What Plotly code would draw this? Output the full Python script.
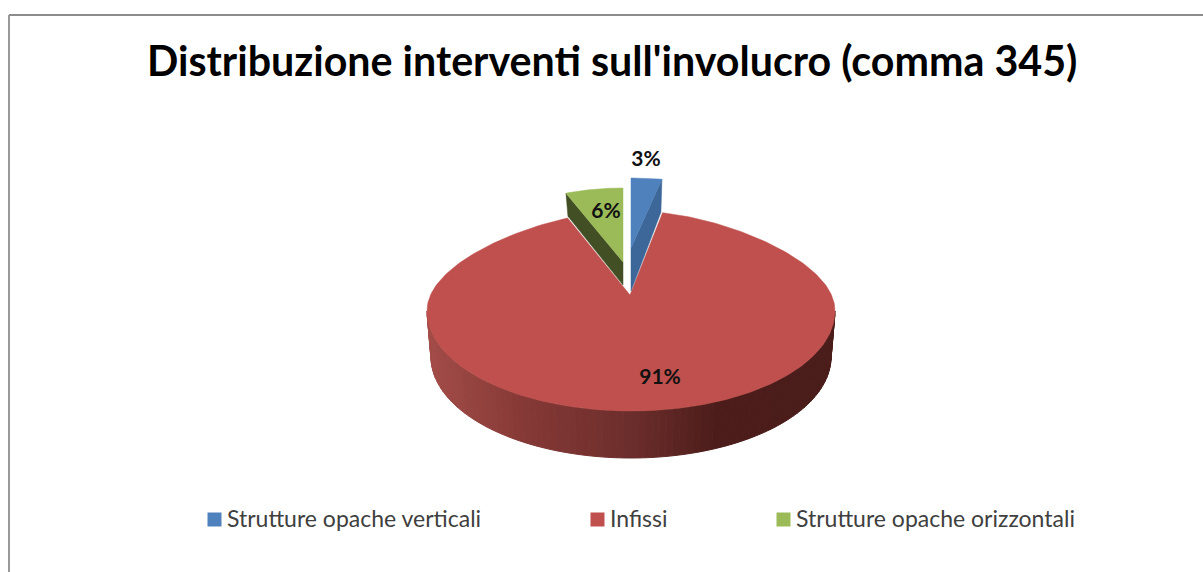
import numpy as np
import plotly.graph_objects as go

# ---- data ----
categories = ["Strutture opache verticali", "Infissi", "Strutture opache orizzontali"]
values = [3, 91, 6]
title_text = "Distribuzione interventi sull'involucro (comma 345)"

# ---- style / layout (pixel coordinates of the 1203x572 page) ----
W, H = 1203, 572
FONT = "Lato"
top_cols = ["#4f81bd", "#bf504d", "#9bbb59"]
side_cols = ["#3c6798", None, "#424f25"]
CX, CY, RX, RY = 631, 311, 204, 100
BCY, BRX, BRY = 357, 200, 101


def pts(xs, ys):
    return list(xs) + [xs[0]], list(ys) + [ys[0]]


def add_poly(fig, xs, ys, color, name, line=0.5):
    x, y = pts(xs, ys)
    fig.add_trace(go.Scatter(x=x, y=y, mode="lines", fill="toself", fillcolor=color,
                             line=dict(color=color, width=line), name=name,
                             hoverinfo="skip", showlegend=False))


def lerp_side(x):
    stops_x = [430, 520, 631, 716, 830]
    stops = np.array([[163, 76, 72], [135, 58, 55], [108, 46, 44], [76, 29, 27], [74, 28, 26]], float)
    c = [np.interp(x, stops_x, stops[:, i]) for i in range(3)]
    return "rgb(%d,%d,%d)" % tuple(c)


# slice angles derived from values, clockwise from 12 o'clock
total = sum(values)
blue_a = np.radians(360 * values[0] / total)
green_a = np.radians(360 * values[2] / total)

fig = go.Figure()

# red rim (front half of the disc), drawn as thin shaded strips
edges = np.radians(np.linspace(90, 270, 91))
for a0, a1 in zip(edges[:-1], edges[1:]):
    xs = [CX + RX * np.sin(a0), CX + RX * np.sin(a1), CX + BRX * np.sin(a1), CX + BRX * np.sin(a0)]
    ys = [CY - RY * np.cos(a0), CY - RY * np.cos(a1), BCY - BRY * np.cos(a1), BCY - BRY * np.cos(a0)]
    add_poly(fig, xs, ys, lerp_side(np.mean(xs)), categories[1], line=1)

# red top face
th = np.linspace(blue_a, 2 * np.pi - green_a, 300)
squeeze = 1 - 0.18 * np.clip(np.cos(th), 0, None) ** 2
rx_ = CX + RX * np.sin(th) * squeeze
ry_ = CY - RY * np.cos(th)
add_poly(fig, [630] + list(rx_), [295] + list(ry_), top_cols[1], categories[1])

# blue exploded slice
ax, ay, r_x, r_y = 631, 248, 165, 70
t = np.linspace(0, blue_a, 20)
ox, oy = ax + r_x * np.sin(t), ay - r_y * np.cos(t)
add_poly(fig, [ox[-1], ox[-1] - 1, ax, ax], [oy[-1], oy[-1] + 33, ay + 43, ay], side_cols[0], categories[0])
add_poly(fig, [ax] + list(ox), [ay] + list(oy), top_cols[0], categories[0])

# green exploded slice
ax, ay, r_x, r_y = 623, 262, 155, 74
t = np.linspace(-green_a, 0, 30)
ox, oy = ax + r_x * np.sin(t), ay - r_y * np.cos(t)
add_poly(fig, [ox[0], ox[0] + 2, ax, ax], [oy[0], oy[0] + 23, ay + 23, ay], side_cols[2], categories[2])
add_poly(fig, [ax] + list(ox), [ay] + list(oy), top_cols[2], categories[2])

# percentage labels
label_x = [646, 660, 606]
label_y = [161, 379, 213]
fig.add_trace(go.Scatter(x=label_x, y=label_y, mode="text", text=[f"{v}%" for v in values],
                         textposition="middle center",
                         textfont=dict(family=FONT, size=21, color="#111111", weight="bold"),
                         hoverinfo="skip", showlegend=False))

# legend row
legend_x = [214.5, 597.5, 783.5]
for cat, col, lx in zip(categories, top_cols, legend_x):
    fig.add_trace(go.Scatter(x=[lx], y=[519.5], mode="markers", name=cat,
                             marker=dict(symbol="square", size=14, color=col),
                             hoverinfo="skip", showlegend=False))
    fig.add_annotation(x=lx + 10.5, y=518, text=cat, showarrow=False, xanchor="left", yanchor="middle",
                       xref="x", yref="y", font=dict(family=FONT, size=23, color="#404040"))

fig.update_layout(
    width=W, height=H, autosize=False,
    margin=dict(l=0, r=0, t=0, b=0),
    paper_bgcolor="white", plot_bgcolor="white",
    showlegend=False,
    xaxis=dict(range=[0, W], visible=False, fixedrange=True),
    yaxis=dict(range=[H, 0], visible=False, fixedrange=True),
    shapes=[
        dict(type="line", xref="x", yref="y", x0=9, y0=15, x1=W, y1=15, line=dict(color="#8c8c8c", width=2)),
        dict(type="line", xref="x", yref="y", x0=9, y0=15, x1=9, y1=H, line=dict(color="#999999", width=2)),
    ],
    annotations=list(fig.layout.annotations) + [
        dict(x=611.5, y=60, xref="x", yref="y", text=title_text, showarrow=False,
             xanchor="center", yanchor="middle",
             font=dict(family=FONT, size=41.2, color="#000000", weight="bold"))
    ],
)

fig.write_html("out.html", config={"displayModeBar": False},
               post_script="document.body.style.margin='0';document.documentElement.style.overflow='hidden';")
